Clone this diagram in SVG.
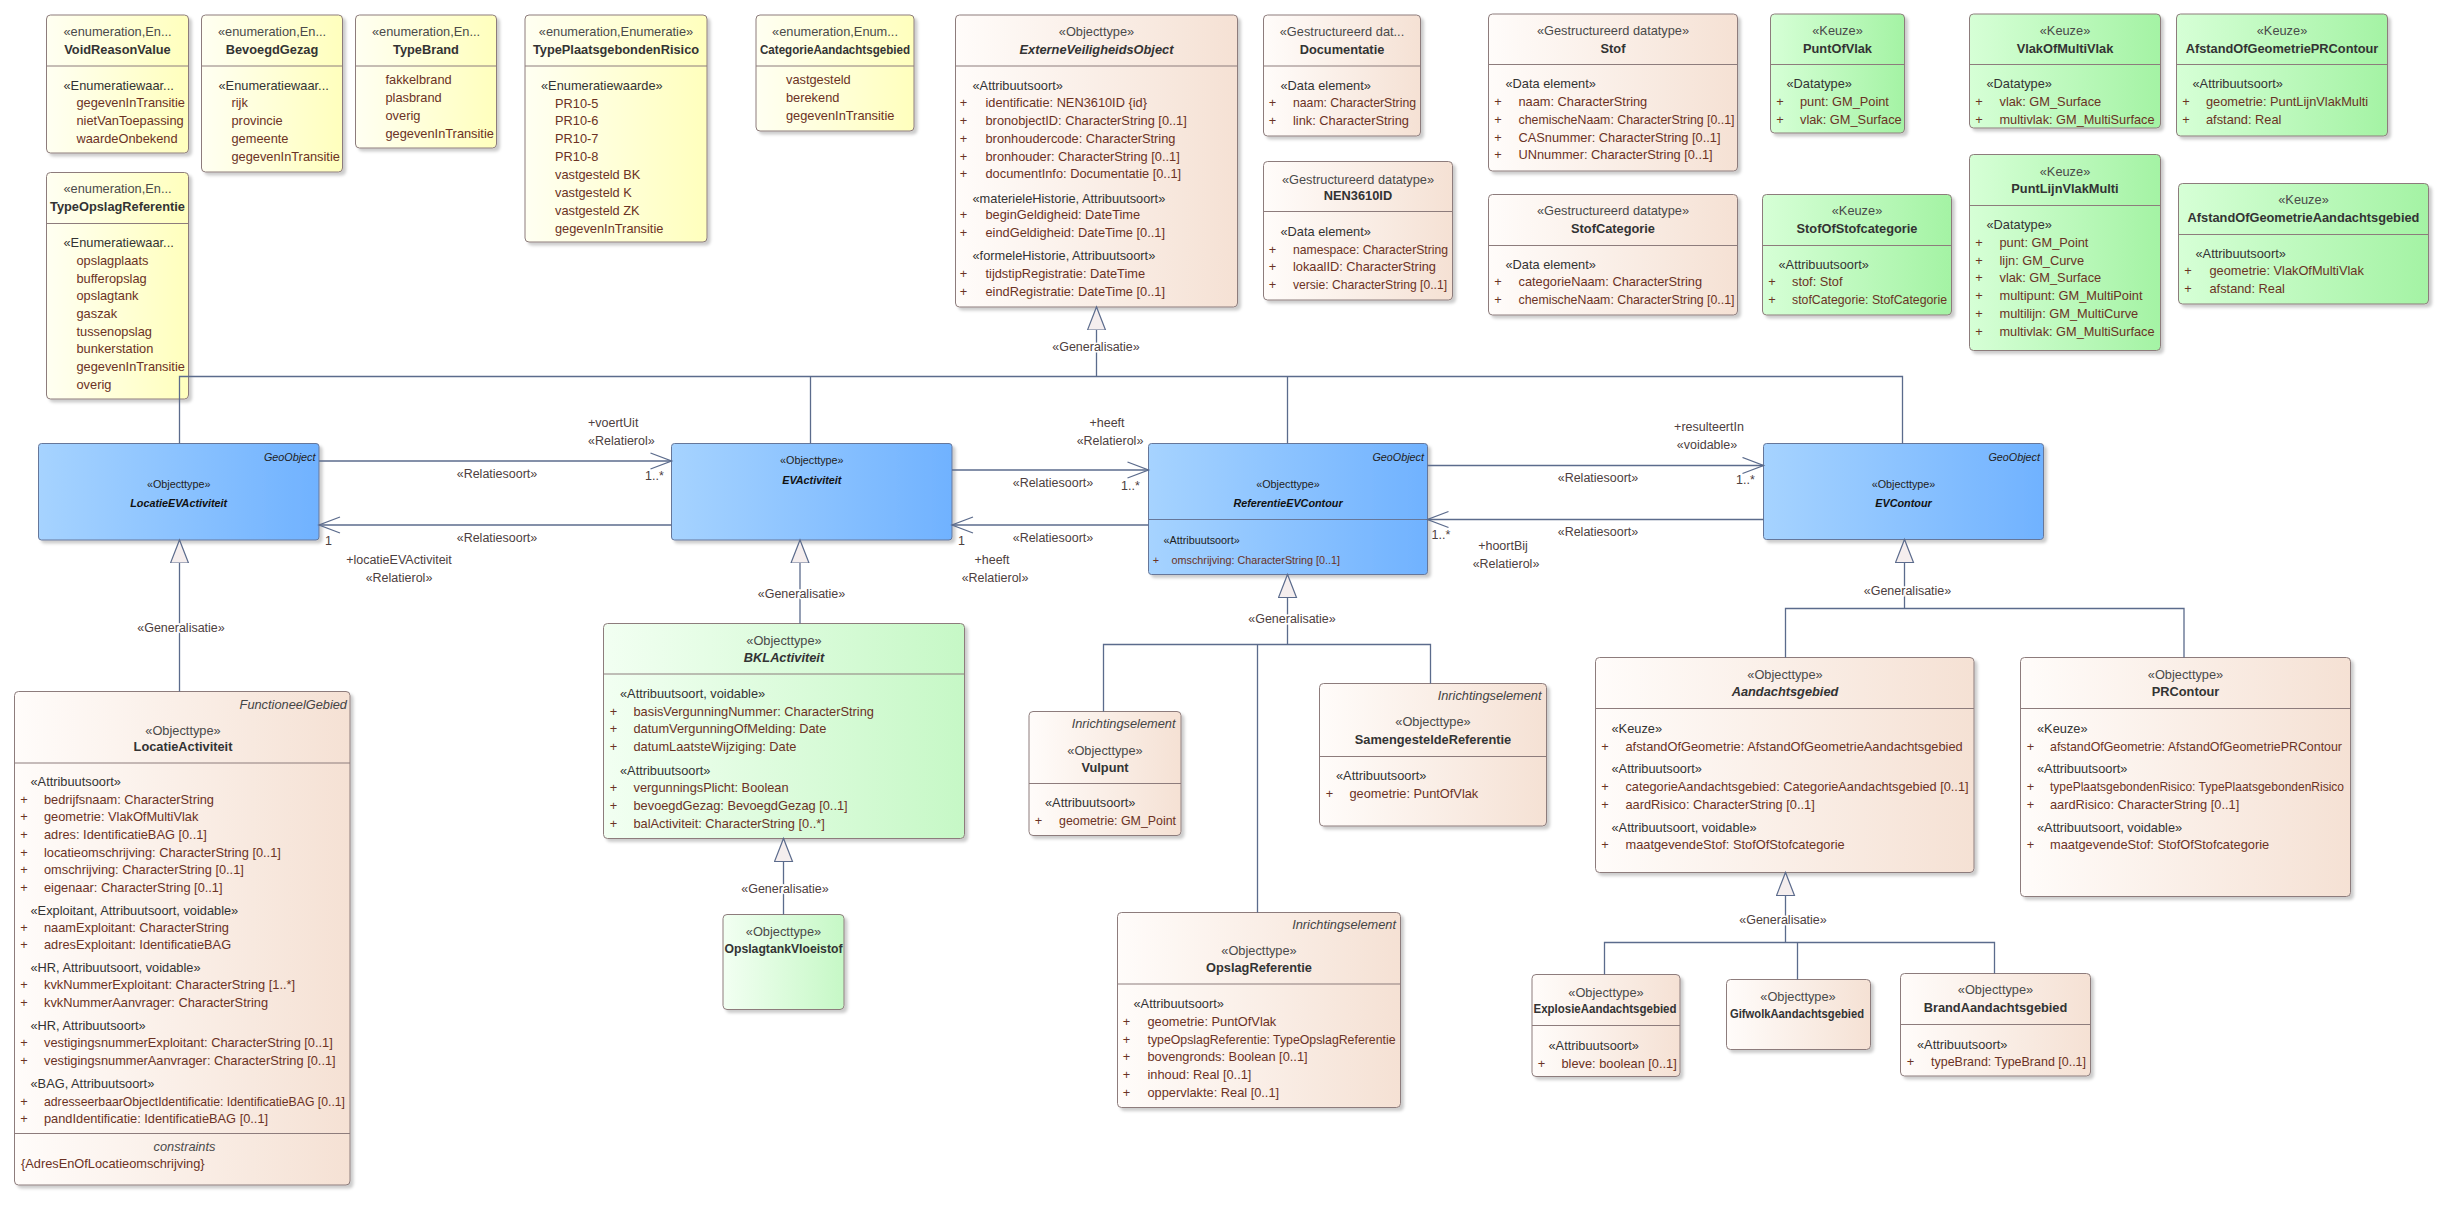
<svg xmlns="http://www.w3.org/2000/svg" width="2447" height="1211" viewBox="0 0 2447 1211">
<style>
text{font-family:"Liberation Sans",Arial,sans-serif;}
.bx{stroke:#8d7c7c;stroke-width:1;filter:url(#sh);}
.bb{stroke:#66779a;stroke-width:1;filter:url(#sh);}
.tan{fill:url(#gTan);} .yel{fill:url(#gYel);} .grn{fill:url(#gGrn);} .grl{fill:url(#gGrl);} .blu{fill:url(#gBlu);}
.sep{stroke:#8d7c7c;stroke-width:1;}
.sepb{stroke:#66779a;stroke-width:1;}
.s{font-size:12.8px;fill:#4a4a4a;text-anchor:middle;}
.n{font-size:12.8px;font-weight:bold;fill:#333;text-anchor:middle;}
.ni{font-style:italic;}
.c{font-size:12.8px;fill:#333;}
.a{font-size:12.8px;fill:#6b3224;}
.p{font-size:12.8px;fill:#6b3224;text-anchor:middle;}
.g{font-size:12.8px;font-style:italic;fill:#444;text-anchor:end;}
.bs{font-size:10.8px;fill:#222;text-anchor:middle;}
.bn{font-size:10.8px;font-weight:bold;font-style:italic;fill:#111;text-anchor:middle;}
.bg{font-size:10.8px;font-style:italic;fill:#222;text-anchor:end;}
.bc{font-size:10.8px;fill:#222;}
.ba{font-size:10.8px;fill:#6b3224;}
.l{font-size:12.5px;fill:#4d4040;text-anchor:middle;stroke:#fff;stroke-width:3px;paint-order:stroke;}
.ls{font-size:12.5px;fill:#4d4040;}
.cn{stroke:#5b6b8c;stroke-width:1.3;fill:none;}
.ar{marker-end:url(#oa);}
.gn{marker-end:url(#gt);}
</style>
<defs>
<filter id="sh" x="-5%" y="-5%" width="115%" height="115%"><feDropShadow dx="3" dy="3" stdDeviation="1.6" flood-color="#000" flood-opacity="0.2"/></filter>
<linearGradient id="gTan" x1="0" y1="0" x2="1" y2="0"><stop offset="0" stop-color="#fffcfa"/><stop offset="1" stop-color="#f5e1d4"/></linearGradient>
<linearGradient id="gYel" x1="0" y1="0" x2="1" y2="0"><stop offset="0" stop-color="#fffff2"/><stop offset="1" stop-color="#ffffbd"/></linearGradient>
<linearGradient id="gGrn" x1="0" y1="0" x2="1" y2="0"><stop offset="0" stop-color="#d6ffd6"/><stop offset="1" stop-color="#a4f3a4"/></linearGradient>
<linearGradient id="gGrl" x1="0" y1="0" x2="1" y2="0"><stop offset="0" stop-color="#f2fff2"/><stop offset="1" stop-color="#c6f8c6"/></linearGradient>
<linearGradient id="gBlu" x1="0" y1="0" x2="1" y2="0"><stop offset="0" stop-color="#a6d3ff"/><stop offset="1" stop-color="#70b2ff"/></linearGradient>
<marker id="oa" markerUnits="userSpaceOnUse" markerWidth="26" markerHeight="20" refX="22" refY="9" orient="auto"><path d="M1,1 L22,9 L1,17" fill="none" stroke="#5b6b8c" stroke-width="1.3"/></marker>
<marker id="gt" markerUnits="userSpaceOnUse" markerWidth="26" markerHeight="22" refX="23" refY="10" orient="auto"><path d="M0,1 L23,10 L0,19 Z" fill="#f5eeee" stroke="#5b6b8c" stroke-width="1.2"/></marker>
</defs>
<rect width="2447" height="1211" fill="#fff"/>

<g id="VoidReasonValue">
<rect class="bx yel" x="46.5" y="15" width="142" height="138" rx="4"/>
<line class="sep" x1="46.5" y1="66" x2="188.5" y2="66"/>
<text class="s" x="117.5" y="36">«enumeration,En...</text>
<text class="n" x="117.5" y="54">VoidReasonValue</text>
<text class="c" x="63.5" y="90">«Enumeratiewaar...</text>
<text class="a" x="76.5" y="107">gegevenInTransitie</text>
<text class="a" x="76.5" y="125">nietVanToepassing</text>
<text class="a" x="76.5" y="142.5">waardeOnbekend</text>
</g>
<g id="BevoegdGezag">
<rect class="bx yel" x="201.5" y="15" width="141" height="157" rx="4"/>
<line class="sep" x1="201.5" y1="66" x2="342.5" y2="66"/>
<text class="s" x="272" y="36">«enumeration,En...</text>
<text class="n" x="272" y="54">BevoegdGezag</text>
<text class="c" x="218.5" y="90">«Enumeratiewaar...</text>
<text class="a" x="231.5" y="107">rijk</text>
<text class="a" x="231.5" y="125">provincie</text>
<text class="a" x="231.5" y="143">gemeente</text>
<text class="a" x="231.5" y="161">gegevenInTransitie</text>
</g>
<g id="TypeBrand">
<rect class="bx yel" x="355.5" y="15" width="141" height="133" rx="4"/>
<line class="sep" x1="355.5" y1="66" x2="496.5" y2="66"/>
<text class="s" x="426" y="36">«enumeration,En...</text>
<text class="n" x="426" y="54">TypeBrand</text>
<text class="a" x="385.5" y="84">fakkelbrand</text>
<text class="a" x="385.5" y="102">plasbrand</text>
<text class="a" x="385.5" y="120">overig</text>
<text class="a" x="385.5" y="137.5">gegevenInTransitie</text>
</g>
<g id="TypeOpslagReferentie">
<rect class="bx yel" x="46.5" y="172.5" width="142" height="226.5" rx="4"/>
<line class="sep" x1="46.5" y1="223.5" x2="188.5" y2="223.5"/>
<text class="s" x="117.5" y="193">«enumeration,En...</text>
<text class="n" x="117.5" y="211">TypeOpslagReferentie</text>
<text class="c" x="63.5" y="247">«Enumeratiewaar...</text>
<text class="a" x="76.5" y="265">opslagplaats</text>
<text class="a" x="76.5" y="282.5">bufferopslag</text>
<text class="a" x="76.5" y="300">opslagtank</text>
<text class="a" x="76.5" y="318">gaszak</text>
<text class="a" x="76.5" y="336">tussenopslag</text>
<text class="a" x="76.5" y="353">bunkerstation</text>
<text class="a" x="76.5" y="371">gegevenInTransitie</text>
<text class="a" x="76.5" y="389">overig</text>
</g>
<g id="TypePlaatsgebondenRisico">
<rect class="bx yel" x="525" y="15" width="182" height="227" rx="4"/>
<line class="sep" x1="525" y1="66" x2="707" y2="66"/>
<text class="s" x="616" y="36">«enumeration,Enumeratie»</text>
<text class="n" x="616" y="54">TypePlaatsgebondenRisico</text>
<text class="c" x="541" y="90">«Enumeratiewaarde»</text>
<text class="a" x="555" y="107.5">PR10-5</text>
<text class="a" x="555" y="125">PR10-6</text>
<text class="a" x="555" y="143">PR10-7</text>
<text class="a" x="555" y="160.5">PR10-8</text>
<text class="a" x="555" y="178.5">vastgesteld BK</text>
<text class="a" x="555" y="196.5">vastgesteld K</text>
<text class="a" x="555" y="214.5">vastgesteld ZK</text>
<text class="a" x="555" y="232.5">gegevenInTransitie</text>
</g>
<g id="CategorieAandachtsgebied">
<rect class="bx yel" x="756" y="15" width="158" height="116" rx="4"/>
<line class="sep" x1="756" y1="66" x2="914" y2="66"/>
<text class="s" x="835" y="36">«enumeration,Enum...</text>
<text class="n" x="835" y="54" textLength="150" lengthAdjust="spacingAndGlyphs">CategorieAandachtsgebied</text>
<text class="a" x="786" y="84">vastgesteld</text>
<text class="a" x="786" y="102">berekend</text>
<text class="a" x="786" y="120">gegevenInTransitie</text>
</g>
<g id="ExterneVeiligheidsObject">
<rect class="bx tan" x="955.5" y="15" width="282" height="292" rx="4"/>
<line class="sep" x1="955.5" y1="66" x2="1237.5" y2="66"/>
<text class="s" x="1096.5" y="36">«Objecttype»</text>
<text class="n ni" x="1096.5" y="54">ExterneVeiligheidsObject</text>
<text class="c" x="972.5" y="90">«Attribuutsoort»</text>
<text class="p" x="963.5" y="107">+</text><text class="a" x="985.5" y="107">identificatie: NEN3610ID {id}</text>
<text class="p" x="963.5" y="125">+</text><text class="a" x="985.5" y="125">bronobjectID: CharacterString [0..1]</text>
<text class="p" x="963.5" y="143">+</text><text class="a" x="985.5" y="143">bronhoudercode: CharacterString</text>
<text class="p" x="963.5" y="161">+</text><text class="a" x="985.5" y="161">bronhouder: CharacterString [0..1]</text>
<text class="p" x="963.5" y="178">+</text><text class="a" x="985.5" y="178">documentInfo: Documentatie [0..1]</text>
<text class="c" x="972.5" y="202.5">«materieleHistorie, Attribuutsoort»</text>
<text class="p" x="963.5" y="219">+</text><text class="a" x="985.5" y="219">beginGeldigheid: DateTime</text>
<text class="p" x="963.5" y="237">+</text><text class="a" x="985.5" y="237">eindGeldigheid: DateTime [0..1]</text>
<text class="c" x="972.5" y="260">«formeleHistorie, Attribuutsoort»</text>
<text class="p" x="963.5" y="278">+</text><text class="a" x="985.5" y="278">tijdstipRegistratie: DateTime</text>
<text class="p" x="963.5" y="296">+</text><text class="a" x="985.5" y="296">eindRegistratie: DateTime [0..1]</text>
</g>
<g id="Documentatie">
<rect class="bx tan" x="1263.5" y="15" width="157" height="121" rx="4"/>
<line class="sep" x1="1263.5" y1="66" x2="1420.5" y2="66"/>
<text class="s" x="1342" y="36">«Gestructureerd dat...</text>
<text class="n" x="1342" y="54">Documentatie</text>
<text class="c" x="1280.5" y="90">«Data element»</text>
<text class="p" x="1272.5" y="107">+</text><text class="a" x="1293" y="107" textLength="123" lengthAdjust="spacingAndGlyphs">naam: CharacterString</text>
<text class="p" x="1272.5" y="125">+</text><text class="a" x="1293" y="125">link: CharacterString</text>
</g>
<g id="NEN3610ID">
<rect class="bx tan" x="1263.5" y="161.5" width="189" height="138.5" rx="4"/>
<line class="sep" x1="1263.5" y1="211.5" x2="1452.5" y2="211.5"/>
<text class="s" x="1358" y="183.5">«Gestructureerd datatype»</text>
<text class="n" x="1358" y="200">NEN3610ID</text>
<text class="c" x="1280.5" y="235.5">«Data element»</text>
<text class="p" x="1272.5" y="254">+</text><text class="a" x="1293" y="254" textLength="155" lengthAdjust="spacingAndGlyphs">namespace: CharacterString</text>
<text class="p" x="1272.5" y="271">+</text><text class="a" x="1293" y="271">lokaalID: CharacterString</text>
<text class="p" x="1272.5" y="289">+</text><text class="a" x="1293" y="289" textLength="154" lengthAdjust="spacingAndGlyphs">versie: CharacterString [0..1]</text>
</g>
<g id="Stof">
<rect class="bx tan" x="1488.5" y="14" width="249" height="157" rx="4"/>
<line class="sep" x1="1488.5" y1="64.5" x2="1737.5" y2="64.5"/>
<text class="s" x="1613" y="35">«Gestructureerd datatype»</text>
<text class="n" x="1613" y="53">Stof</text>
<text class="c" x="1505.5" y="88">«Data element»</text>
<text class="p" x="1498" y="106">+</text><text class="a" x="1518.5" y="106">naam: CharacterString</text>
<text class="p" x="1498" y="124">+</text><text class="a" x="1518.5" y="124" textLength="216" lengthAdjust="spacingAndGlyphs">chemischeNaam: CharacterString [0..1]</text>
<text class="p" x="1498" y="142">+</text><text class="a" x="1518.5" y="142">CASnummer: CharacterString [0..1]</text>
<text class="p" x="1498" y="159">+</text><text class="a" x="1518.5" y="159">UNnummer: CharacterString [0..1]</text>
</g>
<g id="StofCategorie">
<rect class="bx tan" x="1488.5" y="194.5" width="249" height="120.5" rx="4"/>
<line class="sep" x1="1488.5" y1="245.5" x2="1737.5" y2="245.5"/>
<text class="s" x="1613" y="215">«Gestructureerd datatype»</text>
<text class="n" x="1613" y="233">StofCategorie</text>
<text class="c" x="1505.5" y="269">«Data element»</text>
<text class="p" x="1498" y="286">+</text><text class="a" x="1518.5" y="286">categorieNaam: CharacterString</text>
<text class="p" x="1498" y="304">+</text><text class="a" x="1518.5" y="304" textLength="216" lengthAdjust="spacingAndGlyphs">chemischeNaam: CharacterString [0..1]</text>
</g>
<g id="PuntOfVlak">
<rect class="bx grn" x="1770.5" y="14" width="134" height="119" rx="4"/>
<line class="sep" x1="1770.5" y1="64.5" x2="1904.5" y2="64.5"/>
<text class="s" x="1837.5" y="35">«Keuze»</text>
<text class="n" x="1837.5" y="53">PuntOfVlak</text>
<text class="c" x="1786.5" y="88">«Datatype»</text>
<text class="p" x="1780" y="106">+</text><text class="a" x="1800" y="106">punt: GM_Point</text>
<text class="p" x="1780" y="124">+</text><text class="a" x="1800" y="124">vlak: GM_Surface</text>
</g>
<g id="StofOfStofcategorie">
<rect class="bx grn" x="1762.5" y="194.5" width="189" height="120.5" rx="4"/>
<line class="sep" x1="1762.5" y1="245.5" x2="1951.5" y2="245.5"/>
<text class="s" x="1857" y="215">«Keuze»</text>
<text class="n" x="1857" y="233">StofOfStofcategorie</text>
<text class="c" x="1778.5" y="269">«Attribuutsoort»</text>
<text class="p" x="1772" y="286">+</text><text class="a" x="1792" y="286">stof: Stof</text>
<text class="p" x="1772" y="304">+</text><text class="a" x="1792" y="304" textLength="155" lengthAdjust="spacingAndGlyphs">stofCategorie: StofCategorie</text>
</g>
<g id="VlakOfMultiVlak">
<rect class="bx grn" x="1969.5" y="14" width="191" height="114" rx="4"/>
<line class="sep" x1="1969.5" y1="64.5" x2="2160.5" y2="64.5"/>
<text class="s" x="2065" y="35">«Keuze»</text>
<text class="n" x="2065" y="53">VlakOfMultiVlak</text>
<text class="c" x="1986.5" y="88">«Datatype»</text>
<text class="p" x="1979" y="106">+</text><text class="a" x="1999.5" y="106">vlak: GM_Surface</text>
<text class="p" x="1979" y="124">+</text><text class="a" x="1999.5" y="124" textLength="155" lengthAdjust="spacingAndGlyphs">multivlak: GM_MultiSurface</text>
</g>
<g id="AfstandOfGeometriePRContour">
<rect class="bx grn" x="2176.5" y="14" width="211" height="122" rx="4"/>
<line class="sep" x1="2176.5" y1="64.5" x2="2387.5" y2="64.5"/>
<text class="s" x="2282" y="35">«Keuze»</text>
<text class="n" x="2282" y="53">AfstandOfGeometriePRContour</text>
<text class="c" x="2192.5" y="88">«Attribuutsoort»</text>
<text class="p" x="2186" y="106">+</text><text class="a" x="2206" y="106">geometrie: PuntLijnVlakMulti</text>
<text class="p" x="2186" y="124">+</text><text class="a" x="2206" y="124">afstand: Real</text>
</g>
<g id="PuntLijnVlakMulti">
<rect class="bx grn" x="1969.5" y="154.5" width="191" height="196" rx="4"/>
<line class="sep" x1="1969.5" y1="205.5" x2="2160.5" y2="205.5"/>
<text class="s" x="2065" y="176">«Keuze»</text>
<text class="n" x="2065" y="193">PuntLijnVlakMulti</text>
<text class="c" x="1986.5" y="229">«Datatype»</text>
<text class="p" x="1979" y="247">+</text><text class="a" x="1999.5" y="247">punt: GM_Point</text>
<text class="p" x="1979" y="265">+</text><text class="a" x="1999.5" y="265">lijn: GM_Curve</text>
<text class="p" x="1979" y="282">+</text><text class="a" x="1999.5" y="282">vlak: GM_Surface</text>
<text class="p" x="1979" y="300">+</text><text class="a" x="1999.5" y="300">multipunt: GM_MultiPoint</text>
<text class="p" x="1979" y="318">+</text><text class="a" x="1999.5" y="318">multilijn: GM_MultiCurve</text>
<text class="p" x="1979" y="336">+</text><text class="a" x="1999.5" y="336" textLength="155" lengthAdjust="spacingAndGlyphs">multivlak: GM_MultiSurface</text>
</g>
<g id="AfstandOfGeometrieAandachtsgebied">
<rect class="bx grn" x="2178.5" y="183.5" width="250" height="120.5" rx="4"/>
<line class="sep" x1="2178.5" y1="234.5" x2="2428.5" y2="234.5"/>
<text class="s" x="2303.5" y="204">«Keuze»</text>
<text class="n" x="2303.5" y="221.5">AfstandOfGeometrieAandachtsgebied</text>
<text class="c" x="2195.5" y="258">«Attribuutsoort»</text>
<text class="p" x="2188" y="275">+</text><text class="a" x="2209.5" y="275">geometrie: VlakOfMultiVlak</text>
<text class="p" x="2188" y="293">+</text><text class="a" x="2209.5" y="293">afstand: Real</text>
</g>

<g id="LocatieEVActiviteit">
<rect class="bb blu" x="38.5" y="443.5" width="280.5" height="96.5" rx="3"/>
<text class="bg" x="315.5" y="461">GeoObject</text>
<text class="bs" x="178.7" y="487.5">«Objecttype»</text>
<text class="bn" x="178.7" y="507">LocatieEVActiviteit</text>
</g>
<g id="EVActiviteit">
<rect class="bb blu" x="671.5" y="443.5" width="280.5" height="96.5" rx="3"/>
<text class="bs" x="811.8" y="464">«Objecttype»</text>
<text class="bn" x="811.8" y="484">EVActiviteit</text>
</g>
<g id="ReferentieEVContour">
<rect class="bb blu" x="1148.5" y="443.5" width="279" height="131" rx="3"/>
<line class="sepb" x1="1148.5" y1="519.5" x2="1427.5" y2="519.5"/>
<text class="bg" x="1424" y="461">GeoObject</text>
<text class="bs" x="1288" y="487.5">«Objecttype»</text>
<text class="bn" x="1288" y="507">ReferentieEVContour</text>
<text class="bc" x="1163.5" y="544">«Attribuutsoort»</text>
<text class="ba" x="1156" y="563.5" text-anchor="middle">+</text><text class="ba" x="1171.5" y="563.5">omschrijving: CharacterString [0..1]</text>
</g>
<g id="EVContour">
<rect class="bb blu" x="1763.5" y="443.5" width="280" height="96" rx="3"/>
<text class="bg" x="2040" y="461">GeoObject</text>
<text class="bs" x="1903.5" y="487.5">«Objecttype»</text>
<text class="bn" x="1903.5" y="507">EVContour</text>
</g>

<g id="LocatieActiviteit">
<rect class="bx tan" x="14.5" y="691.5" width="335.5" height="493.5" rx="4"/>
<line class="sep" x1="14.5" y1="763" x2="350" y2="763"/>
<line class="sep" x1="14.5" y1="1133.5" x2="350" y2="1133.5"/>
<text class="g" x="347" y="708.5">FunctioneelGebied</text>
<text class="s" x="183" y="734.5">«Objecttype»</text>
<text class="n" x="183" y="751">LocatieActiviteit</text>
<text class="c" x="30.5" y="786">«Attribuutsoort»</text>
<text class="p" x="24" y="804">+</text><text class="a" x="44" y="804">bedrijfsnaam: CharacterString</text>
<text class="p" x="24" y="821">+</text><text class="a" x="44" y="821">geometrie: VlakOfMultiVlak</text>
<text class="p" x="24" y="838.5">+</text><text class="a" x="44" y="838.5">adres: IdentificatieBAG [0..1]</text>
<text class="p" x="24" y="856.5">+</text><text class="a" x="44" y="856.5">locatieomschrijving: CharacterString [0..1]</text>
<text class="p" x="24" y="874">+</text><text class="a" x="44" y="874">omschrijving: CharacterString [0..1]</text>
<text class="p" x="24" y="892">+</text><text class="a" x="44" y="892">eigenaar: CharacterString [0..1]</text>
<text class="c" x="30.5" y="914.5">«Exploitant, Attribuutsoort, voidable»</text>
<text class="p" x="24" y="932">+</text><text class="a" x="44" y="932">naamExploitant: CharacterString</text>
<text class="p" x="24" y="949">+</text><text class="a" x="44" y="949">adresExploitant: IdentificatieBAG</text>
<text class="c" x="30.5" y="972">«HR, Attribuutsoort, voidable»</text>
<text class="p" x="24" y="989">+</text><text class="a" x="44" y="989">kvkNummerExploitant: CharacterString [1..*]</text>
<text class="p" x="24" y="1007">+</text><text class="a" x="44" y="1007">kvkNummerAanvrager: CharacterString</text>
<text class="c" x="30.5" y="1029.5">«HR, Attribuutsoort»</text>
<text class="p" x="24" y="1047">+</text><text class="a" x="44" y="1047">vestigingsnummerExploitant: CharacterString [0..1]</text>
<text class="p" x="24" y="1065">+</text><text class="a" x="44" y="1065">vestigingsnummerAanvrager: CharacterString [0..1]</text>
<text class="c" x="30.5" y="1088">«BAG, Attribuutsoort»</text>
<text class="p" x="24" y="1106">+</text><text class="a" x="44" y="1106" textLength="301" lengthAdjust="spacingAndGlyphs">adresseerbaarObjectIdentificatie: IdentificatieBAG [0..1]</text>
<text class="p" x="24" y="1123">+</text><text class="a" x="44" y="1123">pandIdentificatie: IdentificatieBAG [0..1]</text>
<text class="s" x="184.5" y="1150.5" font-style="italic">constraints</text>
<text class="a" x="21" y="1168">{AdresEnOfLocatieomschrijving}</text>
</g>
<g id="BKLActiviteit">
<rect class="bx grl" x="603.5" y="623.5" width="361" height="215" rx="4"/>
<line class="sep" x1="603.5" y1="674" x2="964.5" y2="674"/>
<text class="s" x="784" y="644.5">«Objecttype»</text>
<text class="n ni" x="784" y="662">BKLActiviteit</text>
<text class="c" x="620" y="698">«Attribuutsoort, voidable»</text>
<text class="p" x="613.5" y="716">+</text><text class="a" x="633.5" y="716">basisVergunningNummer: CharacterString</text>
<text class="p" x="613.5" y="733">+</text><text class="a" x="633.5" y="733">datumVergunningOfMelding: Date</text>
<text class="p" x="613.5" y="751">+</text><text class="a" x="633.5" y="751">datumLaatsteWijziging: Date</text>
<text class="c" x="620" y="774.5">«Attribuutsoort»</text>
<text class="p" x="613.5" y="792">+</text><text class="a" x="633.5" y="792">vergunningsPlicht: Boolean</text>
<text class="p" x="613.5" y="810">+</text><text class="a" x="633.5" y="810">bevoegdGezag: BevoegdGezag [0..1]</text>
<text class="p" x="613.5" y="828">+</text><text class="a" x="633.5" y="828">balActiviteit: CharacterString [0..*]</text>
</g>
<g id="OpslagtankVloeistof">
<rect class="bx grl" x="723" y="914.5" width="121" height="95" rx="4"/>
<text class="s" x="783.5" y="936">«Objecttype»</text>
<text class="n" x="783.5" y="953" textLength="118" lengthAdjust="spacingAndGlyphs">OpslagtankVloeistof</text>
</g>
<g id="Vulpunt">
<rect class="bx tan" x="1029" y="711.5" width="152" height="124" rx="4"/>
<line class="sep" x1="1029" y1="783.5" x2="1181" y2="783.5"/>
<text class="g" x="1175.5" y="728">Inrichtingselement</text>
<text class="s" x="1105" y="754.5">«Objecttype»</text>
<text class="n" x="1105" y="772">Vulpunt</text>
<text class="c" x="1045" y="807">«Attribuutsoort»</text>
<text class="p" x="1038.5" y="825">+</text><text class="a" x="1059" y="825" textLength="117" lengthAdjust="spacingAndGlyphs">geometrie: GM_Point</text>
</g>
<g id="SamengesteldeReferentie">
<rect class="bx tan" x="1319.5" y="683.5" width="227" height="142.5" rx="4"/>
<line class="sep" x1="1319.5" y1="756.5" x2="1546.5" y2="756.5"/>
<text class="g" x="1541.5" y="700">Inrichtingselement</text>
<text class="s" x="1433" y="726">«Objecttype»</text>
<text class="n" x="1433" y="744">SamengesteldeReferentie</text>
<text class="c" x="1336" y="780">«Attribuutsoort»</text>
<text class="p" x="1329.5" y="798">+</text><text class="a" x="1349.5" y="798">geometrie: PuntOfVlak</text>
</g>
<g id="OpslagReferentie">
<rect class="bx tan" x="1117.5" y="912.5" width="283" height="195" rx="4"/>
<line class="sep" x1="1117.5" y1="984" x2="1400.5" y2="984"/>
<text class="g" x="1396" y="929">Inrichtingselement</text>
<text class="s" x="1259" y="955">«Objecttype»</text>
<text class="n" x="1259" y="972">OpslagReferentie</text>
<text class="c" x="1133.5" y="1008">«Attribuutsoort»</text>
<text class="p" x="1126.5" y="1026">+</text><text class="a" x="1147.5" y="1026">geometrie: PuntOfVlak</text>
<text class="p" x="1126.5" y="1044">+</text><text class="a" x="1147.5" y="1044" textLength="248" lengthAdjust="spacingAndGlyphs">typeOpslagReferentie: TypeOpslagReferentie</text>
<text class="p" x="1126.5" y="1061">+</text><text class="a" x="1147.5" y="1061">bovengronds: Boolean [0..1]</text>
<text class="p" x="1126.5" y="1079">+</text><text class="a" x="1147.5" y="1079">inhoud: Real [0..1]</text>
<text class="p" x="1126.5" y="1097">+</text><text class="a" x="1147.5" y="1097">oppervlakte: Real [0..1]</text>
</g>
<g id="Aandachtsgebied">
<rect class="bx tan" x="1595.5" y="657.5" width="378.5" height="215" rx="4"/>
<line class="sep" x1="1595.5" y1="708.5" x2="1974" y2="708.5"/>
<text class="s" x="1785" y="679">«Objecttype»</text>
<text class="n ni" x="1785" y="696">Aandachtsgebied</text>
<text class="c" x="1611.5" y="732.5">«Keuze»</text>
<text class="p" x="1605" y="750.5">+</text><text class="a" x="1625.5" y="750.5">afstandOfGeometrie: AfstandOfGeometrieAandachtsgebied</text>
<text class="c" x="1611.5" y="773">«Attribuutsoort»</text>
<text class="p" x="1605" y="791">+</text><text class="a" x="1625.5" y="791" textLength="343" lengthAdjust="spacingAndGlyphs">categorieAandachtsgebied: CategorieAandachtsgebied [0..1]</text>
<text class="p" x="1605" y="808.5">+</text><text class="a" x="1625.5" y="808.5">aardRisico: CharacterString [0..1]</text>
<text class="c" x="1611.5" y="832">«Attribuutsoort, voidable»</text>
<text class="p" x="1605" y="849">+</text><text class="a" x="1625.5" y="849">maatgevendeStof: StofOfStofcategorie</text>
</g>
<g id="PRContour">
<rect class="bx tan" x="2020.5" y="657.5" width="330" height="239" rx="4"/>
<line class="sep" x1="2020.5" y1="708.5" x2="2350.5" y2="708.5"/>
<text class="s" x="2185.5" y="679">«Objecttype»</text>
<text class="n" x="2185.5" y="696">PRContour</text>
<text class="c" x="2037" y="732.5">«Keuze»</text>
<text class="p" x="2030.5" y="750.5">+</text><text class="a" x="2050" y="750.5" textLength="292" lengthAdjust="spacingAndGlyphs">afstandOfGeometrie: AfstandOfGeometriePRContour</text>
<text class="c" x="2037" y="773">«Attribuutsoort»</text>
<text class="p" x="2030.5" y="791">+</text><text class="a" x="2050" y="791" textLength="294" lengthAdjust="spacingAndGlyphs">typePlaatsgebondenRisico: TypePlaatsgebondenRisico</text>
<text class="p" x="2030.5" y="808.5">+</text><text class="a" x="2050" y="808.5">aardRisico: CharacterString [0..1]</text>
<text class="c" x="2037" y="832">«Attribuutsoort, voidable»</text>
<text class="p" x="2030.5" y="849">+</text><text class="a" x="2050" y="849">maatgevendeStof: StofOfStofcategorie</text>
</g>
<g id="ExplosieAandachtsgebied">
<rect class="bx tan" x="1532" y="974.5" width="148" height="102" rx="4"/>
<line class="sep" x1="1532" y1="1025.5" x2="1680" y2="1025.5"/>
<text class="s" x="1606" y="996.5">«Objecttype»</text>
<text class="n" x="1605" y="1013" textLength="143" lengthAdjust="spacingAndGlyphs">ExplosieAandachtsgebied</text>
<text class="c" x="1548.5" y="1049.5">«Attribuutsoort»</text>
<text class="p" x="1541.5" y="1067.5">+</text><text class="a" x="1561.5" y="1067.5">bleve: boolean [0..1]</text>
</g>
<g id="GifwolkAandachtsgebied">
<rect class="bx tan" x="1726.5" y="979.5" width="144" height="70" rx="4"/>
<text class="s" x="1798" y="1000.5">«Objecttype»</text>
<text class="n" x="1797" y="1018" textLength="134" lengthAdjust="spacingAndGlyphs">GifwolkAandachtsgebied</text>
</g>
<g id="BrandAandachtsgebied">
<rect class="bx tan" x="1900.5" y="973.5" width="190" height="102.5" rx="4"/>
<line class="sep" x1="1900.5" y1="1024.5" x2="2090.5" y2="1024.5"/>
<text class="s" x="1995.5" y="993.5">«Objecttype»</text>
<text class="n" x="1995.5" y="1012">BrandAandachtsgebied</text>
<text class="c" x="1917" y="1048.5">«Attribuutsoort»</text>
<text class="p" x="1910.5" y="1066">+</text><text class="a" x="1931" y="1066" textLength="155" lengthAdjust="spacingAndGlyphs">typeBrand: TypeBrand [0..1]</text>
</g>

<g id="connectors">
<path class="cn" d="M179.5,443.5 V376.5 H1902.5 V443.5"/>
<path class="cn" d="M810.5,443.5 V376.5"/>
<path class="cn" d="M1287.5,443.5 V376.5"/>
<path class="cn gn" d="M1096.5,376.5 V307"/>
<text class="l" x="1096" y="351">«Generalisatie»</text>

<path class="cn gn" d="M179.5,691.5 V540"/>
<text class="l" x="181" y="632">«Generalisatie»</text>

<path class="cn ar" d="M319,461 H671.5"/>
<text class="ls" x="588" y="427">+voertUit</text>
<text class="ls" x="588" y="445">«Relatierol»</text>
<text class="l" x="497" y="478">«Relatiesoort»</text>
<text class="ls" x="645" y="480">1..*</text>

<path class="cn ar" d="M671.5,525 H319"/>
<text class="l" x="497" y="542">«Relatiesoort»</text>
<text class="ls" x="325" y="545">1</text>
<text class="l" x="399" y="564">+locatieEVActiviteit</text>
<text class="l" x="399" y="582">«Relatierol»</text>

<path class="cn ar" d="M952,470 H1148.5"/>
<text class="l" x="1107" y="427">+heeft</text>
<text class="l" x="1110" y="445">«Relatierol»</text>
<text class="l" x="1053" y="487">«Relatiesoort»</text>
<text class="ls" x="1121" y="489.5">1..*</text>

<path class="cn ar" d="M1148.5,525 H952"/>
<text class="l" x="1053" y="542">«Relatiesoort»</text>
<text class="ls" x="958" y="545">1</text>
<text class="l" x="992" y="564">+heeft</text>
<text class="l" x="995" y="582">«Relatierol»</text>

<path class="cn ar" d="M1427.5,465.5 H1763.5"/>
<text class="l" x="1709" y="431">+resulteertIn</text>
<text class="l" x="1707" y="449">«voidable»</text>
<text class="l" x="1598" y="482">«Relatiesoort»</text>
<text class="ls" x="1736" y="484">1..*</text>

<path class="cn ar" d="M1763.5,519.5 H1427.5"/>
<text class="l" x="1598" y="536">«Relatiesoort»</text>
<text class="ls" x="1431.5" y="538.5">1..*</text>
<text class="l" x="1503" y="550">+hoortBij</text>
<text class="l" x="1506" y="568">«Relatierol»</text>

<path class="cn gn" d="M800,623.5 V540"/>
<text class="l" x="801.5" y="597.5">«Generalisatie»</text>

<path class="cn gn" d="M783.5,914.5 V838.5"/>
<text class="l" x="785" y="893">«Generalisatie»</text>

<path class="cn" d="M1103.5,711.5 V644.5 H1430.5 V683.5"/>
<path class="cn" d="M1257.5,912.5 V644.5"/>
<path class="cn gn" d="M1287.5,644.5 V574.5"/>
<text class="l" x="1292" y="623">«Generalisatie»</text>

<path class="cn" d="M1785.5,657.5 V608.5 H2184 V657.5"/>
<path class="cn gn" d="M1904.5,608.5 V539.5"/>
<text class="l" x="1907.5" y="595">«Generalisatie»</text>

<path class="cn" d="M1604.5,974.5 V942.5 H1994.5 V973.5"/>
<path class="cn" d="M1797.5,979.5 V942.5"/>
<path class="cn gn" d="M1785.5,942.5 V872.5"/>
<text class="l" x="1783" y="923.5">«Generalisatie»</text>
</g>
</svg>
